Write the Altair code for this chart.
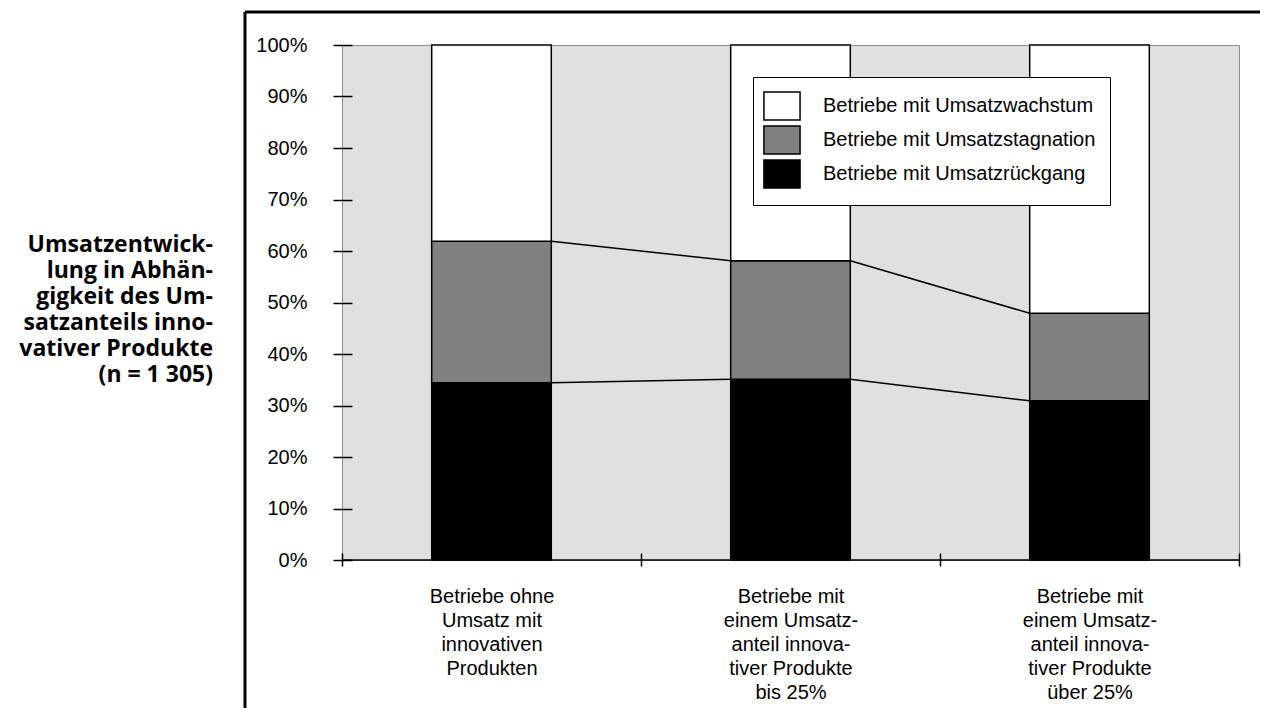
import altair as alt
import pandas as pd

categories = [
    "Betriebe ohne|Umsatz mit|innovativen|Produkten",
    "Betriebe mit|einem Umsatz-|anteil innova-|tiver Produkte|bis 25%",
    "Betriebe mit|einem Umsatz-|anteil innova-|tiver Produkte|über 25%",
]
series = [
    "Betriebe mit Umsatzwachstum",
    "Betriebe mit Umsatzstagnation",
    "Betriebe mit Umsatzrückgang",
]
growth = [38.1, 41.9, 52.1]
stagnation = [27.5, 23.0, 17.0]
decline = [34.4, 35.1, 30.9]
colors = ["#ffffff", "#808080", "#000000"]
y_ticks = [0, 10, 20, 30, 40, 50, 60, 70, 80, 90, 100]
title_lines = [
    "Umsatzentwick-",
    "lung in Abhän-",
    "gigkeit des Um-",
    "satzanteils inno-",
    "vativer Produkte",
    "(n = 1 305)",
]

rows = []
for i, c in enumerate(categories):
    for s, vals, rank in [(series[2], decline, 0), (series[1], stagnation, 1), (series[0], growth, 2)]:
        rows.append({"cat": c, "series": s, "value": vals[i], "rank": rank})
df = pd.DataFrame(rows)

seg = []
for i in range(len(categories) - 1):
    seg.append({"cat": categories[i], "cat2": categories[i + 1],
                "y": decline[i], "y2": decline[i + 1]})
    seg.append({"cat": categories[i], "cat2": categories[i + 1],
                "y": decline[i] + stagnation[i], "y2": decline[i + 1] + stagnation[i + 1]})
seg_df = pd.DataFrame(seg)

FONT = "Liberation Sans"

xscale = alt.Scale(domain=categories, paddingInner=0, paddingOuter=0)
yscale = alt.Scale(domain=[0, 100])

x_axis = alt.Axis(domain=False, offset=-7, tickSize=13, tickBand="extent", tickColor="black",
                  tickWidth=1.5, labelExpr="split(datum.label, '|')", labelLineHeight=24,
                  labelPadding=20, labelFont=FONT, labelFontSize=20, labelColor="black",
                  labelAngle=0, title=None, grid=False)
y_axis = alt.Axis(values=y_ticks, labelExpr="datum.value + '%'", domain=False, offset=-10,
                  tickSize=19, tickColor="black", tickWidth=1.5, labelPadding=26,
                  labelFont=FONT, labelFontSize=20, labelColor="black", grid=False, title=None)

legend = alt.Legend(orient="none", legendX=411, legendY=32, title=None, fillColor="white",
                    strokeColor="black", padding=14, symbolType="M-1.29,-1H1.29V1H-1.29Z",
                    symbolSize=784, symbolStrokeColor="black", symbolStrokeWidth=1.5,
                    symbolOpacity=1, labelFont=FONT, labelFontSize=20, labelColor="black",
                    labelOffset=26, rowPadding=0, labelLimit=500)

bars = alt.Chart(df).mark_bar(width={"band": 0.4}, stroke="black", strokeWidth=1.5).encode(
    x=alt.X("cat:N", sort=categories, scale=xscale, axis=x_axis),
    y=alt.Y("value:Q", stack="zero", scale=yscale, axis=y_axis),
    color=alt.Color("series:N", scale=alt.Scale(domain=series, range=colors), legend=legend),
    order=alt.Order("rank:Q", sort="ascending"),
)

connectors = alt.Chart(seg_df).mark_rule(color="black", strokeWidth=1.5).encode(
    x=alt.X("cat:N", sort=categories, scale=xscale, bandPosition=0.7),
    x2=alt.X2("cat2", bandPosition=0.3),
    y=alt.Y("y:Q", scale=yscale),
    y2="y2:Q",
)

one = pd.DataFrame({"t": ["|".join(title_lines)]})

baseline = alt.Chart(one).mark_rule(color="black", strokeWidth=1.5).encode(
    y=alt.datum(0), x=alt.value(0), x2=alt.value(897)
)

title_text = alt.Chart(one).mark_text(align="right", baseline="middle", font="Open Sans",
                                      fontWeight="bold", fontSize=23, lineHeight=26,
                                      lineBreak="|", color="black").encode(
    x=alt.value(-129), y=alt.value(200), text="t:N"
)

frame_v = alt.Chart(one).mark_rule(color="black", strokeWidth=3).encode(
    x=alt.value(-97), y=alt.value(-33), y2=alt.value(700)
)
frame_h = alt.Chart(one).mark_rule(color="black", strokeWidth=3).encode(
    x=alt.value(-97), x2=alt.value(1000), y=alt.value(-33)
)

chart = alt.layer(bars, connectors, baseline, title_text, frame_v, frame_h).properties(
    width=897, height=515,
    padding={"left": 334, "top": 37, "right": 21, "bottom": 148},
    autosize=alt.AutoSizeParams(type="none"),
).configure_view(fill="#e0e0e0", stroke="#8c8c8c", strokeWidth=1)

chart.save("out.html", embed_options={"renderer": "svg", "actions": False})
